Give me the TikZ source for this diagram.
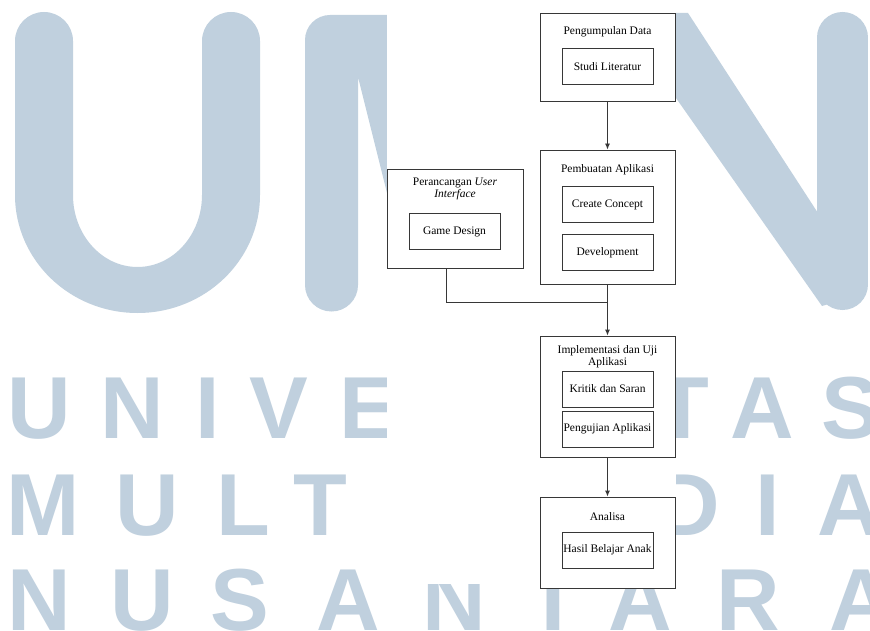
\documentclass[tikz,border=0pt]{standalone}
\usepackage{fontspec}
\setmainfont{Liberation Serif}
\newfontfamily\wmfont{Liberation Sans}
\usetikzlibrary{arrows.meta}
\definecolor{wmcol}{RGB}{192,208,222}
\definecolor{linecol}{RGB}{55,55,55}
\begin{document}
\begin{tikzpicture}[x=1pt,y=-1pt,
  wm/.style={font=\wmfont\bfseries\fontsize{88}{88}\selectfont, text=wmcol, inner sep=0pt, anchor=base},
  outerbox/.style={draw=linecol, line width=0.9pt, fill=white, minimum width=135pt, inner sep=0pt},
  innerbox/.style={draw=linecol, line width=1pt, minimum width=91pt, minimum height=36pt, inner sep=0pt,
    font=\fontsize{11.5}{12.5}\selectfont},
  title/.style={inner sep=0pt, align=center, font=\fontsize{11.5}{12.5}\selectfont},
  conn/.style={draw=linecol, line width=0.9pt},
  arr/.style={conn, -{Latex[length=6pt,width=5pt]}}
]
\useasboundingbox (0,0) rectangle (870,631);
\fill[white] (0,0) rectangle (870,631);

% ---- watermark logo ----
\fill[wmcol] (15,41) -- (15,195) arc[start angle=180, end angle=0, x radius=122.5, y radius=118]
  -- (260,41) arc[start angle=0, end angle=-180, radius=29]
  -- (202,195) arc[start angle=0, end angle=180, x radius=64.5, y radius=72]
  -- (73,41) arc[start angle=0, end angle=-180, radius=29] -- cycle;
\fill[wmcol] (305,285) -- (305,40) arc[start angle=180, end angle=270, radius=25]
  -- (400,15) -- (400,245) -- (358,77) -- (358,285)
  arc[start angle=0, end angle=180, radius=26.5] -- cycle;
\fill[wmcol] (650,13) -- (688,13) -- (842,250) -- (842,300) -- (822,306) -- (650,61) -- cycle;
\draw[wmcol, line width=51pt, line cap=round] (842.5,37.5) -- (842.5,284.5);

% ---- watermark words (letters hidden under the diagram are left out) ----
\foreach \ch/\cx [count=\i] in {U/39,N/132.5,I/208,V/279,E/369,T/682,A/762,S/851}
  \node[wm] (wa\i) at (\cx,438) {\ch};
\foreach \ch/\cx [count=\i] in {M/43.5,U/147,L/243,T/320.5,D/688,I/768,A/849}
  \node[wm] (wb\i) at (\cx,535) {\ch};
\foreach \ch/\cx [count=\i] in {N/39,U/142.5,S/240,A/348.5,N/454,T/553,A/640,R/748,A/861}
  \node[wm] (wc\i) at (\cx,630) {\ch};

% ---- white area of the diagram ----
\fill[white] (387,0) rectangle (675.5,584);

% ---- diagram ----
\node[outerbox, minimum height=88pt] (pengumpulan) at (607.5,57) {};
\node[title] (t1) at (607.5,32) {Pengumpulan Data};
\node[innerbox] (studi) at (607.5,67) {Studi Literatur};

\node[outerbox, minimum height=134pt] (pembuatan) at (607.5,217) {};
\node[title] (t2) at (607.5,170) {Pembuatan Aplikasi};
\node[innerbox] (create) at (607.5,205) {Create Concept};
\node[innerbox] (dev) at (607.5,252.5) {Development};

\node[outerbox, minimum width=136pt, minimum height=99pt] (perancangan) at (455,218.5) {};
\node[title] (t3) at (455,189) {Perancangan \textit{User}\\\textit{Interface}};
\node[innerbox] (game) at (454.5,231.5) {Game Design};

\node[outerbox, minimum height=121pt] (implementasi) at (607.5,396.5) {};
\node[title] (t4) at (607.5,356.5) {Implementasi dan Uji\\Aplikasi};
\node[innerbox] (kritik) at (607.5,389) {Kritik dan Saran};
\node[innerbox] (uji) at (607.5,429) {Pengujian Aplikasi};

\node[outerbox, minimum height=91pt] (analisa) at (607.5,542.5) {};
\node[title] (t5) at (607.5,517) {Analisa};
\node[innerbox] (hasil) at (607.5,550) {Hasil Belajar Anak};

\coordinate (join) at (607.5,302);
\draw[arr] (pengumpulan.south) -- (pembuatan.north);
\draw[conn] ([xshift=-9pt]perancangan.south) |- (join);
\draw[arr] (pembuatan.south) -- (implementasi.north);
\draw[arr] (implementasi.south) -- (analisa.north);
\end{tikzpicture}
\end{document}
